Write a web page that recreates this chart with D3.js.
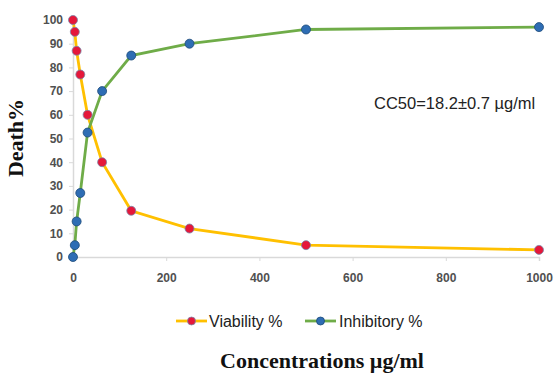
<!DOCTYPE html>
<html>
<head>
<meta charset="utf-8">
<script src="https://cdn.jsdelivr.net/npm/d3@7"></script>
<style>
  body { margin: 0; background: #fff; }
  .tick text { font-family: "Liberation Sans", Arial, sans-serif; font-size: 12px; font-weight: bold; fill: #505050; }
  .axisTitle { font-family: "Liberation Serif", "Times New Roman", serif; font-weight: bold; fill: #111; }
</style>
</head>
<body>
<div id="chart"></div>
<script>
const width = 555
const height = 374
const margin = {top: 20, bottom: 117, left: 73, right: 16}
const netWidth = width - margin.left - margin.right
const netHeight = height - margin.bottom - margin.top

// Data
const concentrations = [0, 3.9, 7.8, 15.6, 31.25, 62.5, 125, 250, 500, 1000]
const viability = [100, 95, 87, 77, 60, 40, 19.5, 12, 5, 3]
const inhibitory = [0, 5, 15, 27, 52.5, 70, 85, 90, 96, 97]
const xTicks = [0, 200, 400, 600, 800, 1000]
const yTicks = [0, 10, 20, 30, 40, 50, 60, 70, 80, 90, 100]

const series = [
    {name: "Viability %", values: viability, line: "#ffc000", dot: "#e5173a", stroke: "#7a86a8"},
    {name: "Inhibitory %", values: inhibitory, line: "#6fac48", dot: "#2e6db4", stroke: "#1d4a78"}
]

const svg = d3.select("div#chart").append("svg").attr("width", width).attr("height", height)
const elementGroup = svg.append("g").attr("transform", `translate(${margin.left}, ${margin.top})`)

const x = d3.scaleLinear().domain([0, 1000]).range([0, netWidth])
const y = d3.scaleLinear().domain([0, 100]).range([netHeight, 0])

// Axes
const xAxisGroup = elementGroup.append("g").attr("transform", `translate(0, ${netHeight})`)
    .call(d3.axisBottom(x).tickValues(xTicks).tickFormat(d3.format("d")).tickSize(4).tickPadding(12))
const yAxisGroup = elementGroup.append("g")
    .call(d3.axisLeft(y).tickValues(yTicks).tickFormat(d3.format("d")).tickSize(4).tickPadding(6))
svg.selectAll(".domain").attr("stroke", "#d9d9d9").attr("stroke-width", 1.5)
svg.selectAll(".tick line").attr("stroke", "#d9d9d9")

// Lines and markers
const line = d3.line().x((d, i) => x(concentrations[i])).y(d => y(d))
series.forEach(s => {
    elementGroup.append("path")
        .attr("d", line(s.values))
        .attr("fill", "none")
        .attr("stroke", s.line)
        .attr("stroke-width", 2.8)
})
series.forEach(s => {
    elementGroup.selectAll(null)
        .data(s.values)
        .enter().append("circle")
        .attr("cx", (d, i) => x(concentrations[i]))
        .attr("cy", d => y(d))
        .attr("r", 4.5)
        .attr("fill", s.dot)
        .attr("stroke", s.stroke)
        .attr("stroke-width", 0.8)
})

// CC50 annotation
svg.append("text")
    .attr("x", 374).attr("y", 109)
    .style("font-family", "'Liberation Sans', sans-serif")
    .style("font-size", "16.5px")
    .attr("fill", "#222")
    .text("CC50=18.2±0.7 µg/ml")

// Legend
const legendX = [176, 305]
const legendTextX = [209, 339]
series.forEach((s, i) => {
    const g = svg.append("g")
    g.append("line").attr("x1", legendX[i]).attr("x2", legendX[i] + 31).attr("y1", 321).attr("y2", 321)
        .attr("stroke", s.line).attr("stroke-width", 2.8)
    g.append("circle").attr("cx", legendX[i] + 15.5).attr("cy", 321).attr("r", 4)
        .attr("fill", s.dot).attr("stroke", s.stroke).attr("stroke-width", 0.8)
    g.append("text").attr("x", legendTextX[i]).attr("y", 326.5)
        .style("font-family", "'Liberation Sans', sans-serif")
        .style("font-size", "16px")
        .attr("fill", "#222")
        .text(s.name)
})

// Axis titles
svg.append("text").attr("class", "axisTitle")
    .attr("x", 322).attr("y", 368)
    .attr("text-anchor", "middle")
    .style("font-size", "22px")
    .text("Concentrations µg/ml")
svg.append("text").attr("class", "axisTitle")
    .attr("transform", "translate(23, 138) rotate(-90)")
    .attr("text-anchor", "middle")
    .style("font-size", "22px")
    .text("Death%")
</script>
</body>
</html>
